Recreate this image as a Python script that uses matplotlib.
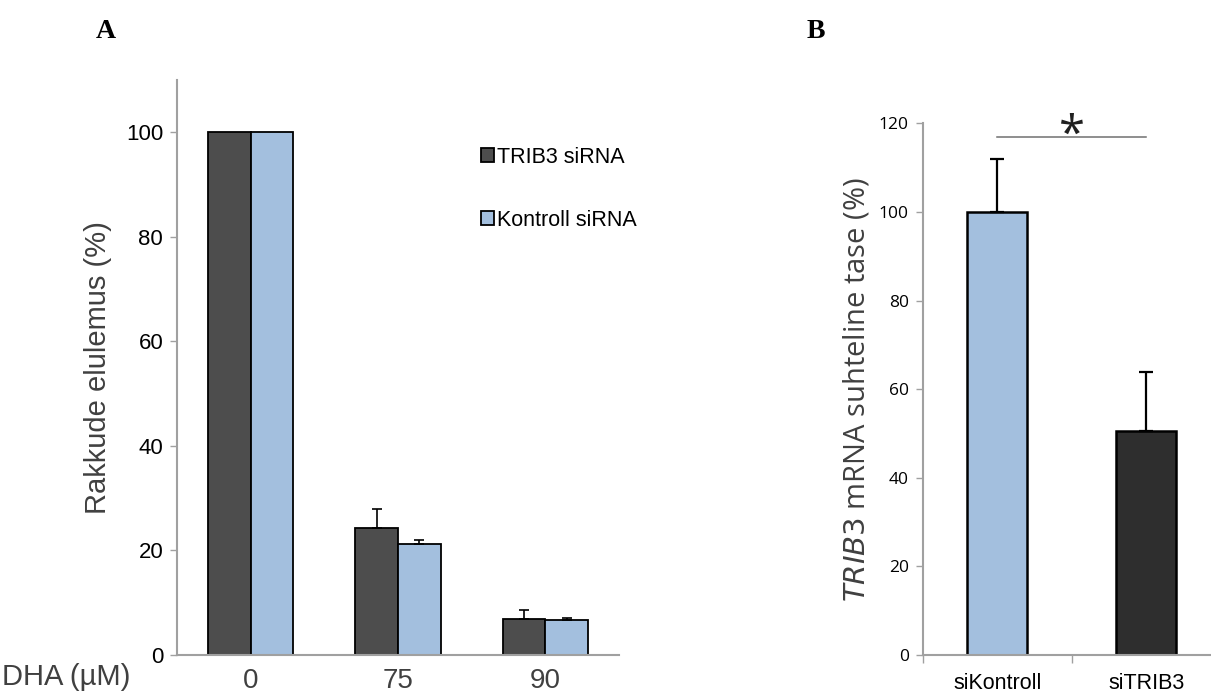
import matplotlib
matplotlib.use("Agg")
import matplotlib.pyplot as plt
import numpy as np

# --- data ---
doses = ["0", "75", "90"]
trib3_surv = [100, 24.3, 6.95]
trib3_err = [0, 3.6, 1.75]
kontroll_surv = [100, 21.3, 6.7]
kontroll_err = [0, 0.7, 0.3]

groups_b = ["siKontroll", "siTRIB3"]
mrna = [100, 50.6]
mrna_err = [12.0, 13.2]

dark_a = "#4d4d4d"
dark_b = "#2e2e2e"
blue = "#a3bfde"
axis_gray = "#a0a0a0"
text_gray = "#404040"

fig = plt.figure(figsize=(12.11, 6.95), dpi=100)

# ---------- panel A ----------
ax = fig.add_axes([0.1462, 0.05755, 0.3650, 0.8273])
x = np.arange(len(doses))
w = 0.29
b1 = ax.bar(x - w / 2, trib3_surv, w, color=dark_a, edgecolor="black", linewidth=1.3,
            label="TRIB3 siRNA")
b2 = ax.bar(x + w / 2, kontroll_surv, w, color=blue, edgecolor="black", linewidth=1.3,
            label="Kontroll siRNA")
ax.errorbar(x[1:] - w / 2, trib3_surv[1:], yerr=[np.zeros(2), trib3_err[1:]], fmt="none",
            ecolor="black", elinewidth=1.2, capsize=3.5, capthick=1.2)
ax.errorbar(x[1:] + w / 2, kontroll_surv[1:], yerr=[np.zeros(2), kontroll_err[1:]], fmt="none",
            ecolor="black", elinewidth=1.2, capsize=3.5, capthick=1.2)

ax.set_xlim(-0.5, 2.5)
ax.set_ylim(0, 110)
ax.set_yticks([0, 20, 40, 60, 80, 100])
ax.set_xticks(x)
ax.set_xticklabels(doses, fontsize=20, color=text_gray, family="Liberation Sans")
ax.tick_params(axis="x", length=0, pad=9)
ax.tick_params(axis="y", length=5, color=axis_gray, width=1, labelsize=16, pad=5)
for lab in ax.get_yticklabels():
    lab.set_family("Liberation Sans")
for s in ["top", "right"]:
    ax.spines[s].set_visible(False)
for s in ["left", "bottom"]:
    ax.spines[s].set_color(axis_gray)
    ax.spines[s].set_linewidth(1.5)
ax.set_ylabel("Rakkude elulemus (%)", fontsize=21, color=text_gray, family="Liberation Sans",
              labelpad=10)
leg = ax.legend(loc="upper left", bbox_to_anchor=(0.643, 0.918), frameon=False,
                handlelength=0.6, handleheight=0.6, handletextpad=0.15,
                labelspacing=1.95, prop={"family": "Liberation Sans", "size": 15.5})
fig.text(0.002, 0.006, "DHA (\u00b5M)", fontsize=21, color=text_gray, family="Liberation Sans",
         ha="left", va="bottom")
fig.text(0.087, 0.955, "A", fontsize=20, fontweight="bold", family="Liberation Serif",
         ha="center", va="center")

# ---------- panel B ----------
bx = fig.add_axes([0.7619, 0.05755, 0.2461, 0.7651])
xb = np.arange(len(groups_b))
wb = 0.40
bx.bar(xb, mrna, wb, color=[blue, dark_b], edgecolor="black", linewidth=1.8)
bx.errorbar(xb, mrna, yerr=[np.zeros(2), mrna_err], fmt="none", ecolor="black",
            elinewidth=1.6, capsize=5, capthick=1.6)
bx.set_xlim(-0.5, 1.5)
bx.set_ylim(0, 120)
bx.set_yticks([0, 20, 40, 60, 80, 100, 120])
bx.set_xticks(xb)
bx.set_xticklabels(groups_b, fontsize=15.5, family="Liberation Sans")
bx.set_xticks([-0.5, 0.5, 1.5], minor=True)
bx.tick_params(axis="x", which="major", length=0, pad=13)
bx.tick_params(axis="x", which="minor", length=6, color=axis_gray, width=1)
bx.tick_params(axis="y", length=5, color=axis_gray, width=1, labelsize=12.5, pad=5)
for lab in bx.get_yticklabels():
    lab.set_family("Open Sans")
for s in ["top", "right"]:
    bx.spines[s].set_visible(False)
for s in ["left", "bottom"]:
    bx.spines[s].set_color(axis_gray)
    bx.spines[s].set_linewidth(1.5)
bx.set_ylabel(r"$\mathit{TRIB3}$ mRNA suhteline tase (%)", fontsize=21, color=text_gray,
              family="Open Sans", labelpad=5)
# significance bar
bx.plot([0, 1], [116.8, 116.8], color="#707070", linewidth=1.1, clip_on=False)
bx.text(0.5, 111.8, "*", fontsize=34, ha="center", va="bottom", family="Open Sans",
        color="#202020")
fig.text(0.674, 0.955, "B", fontsize=20, fontweight="bold", family="Liberation Serif",
         ha="center", va="center")

fig.savefig("out.png", dpi=100)
